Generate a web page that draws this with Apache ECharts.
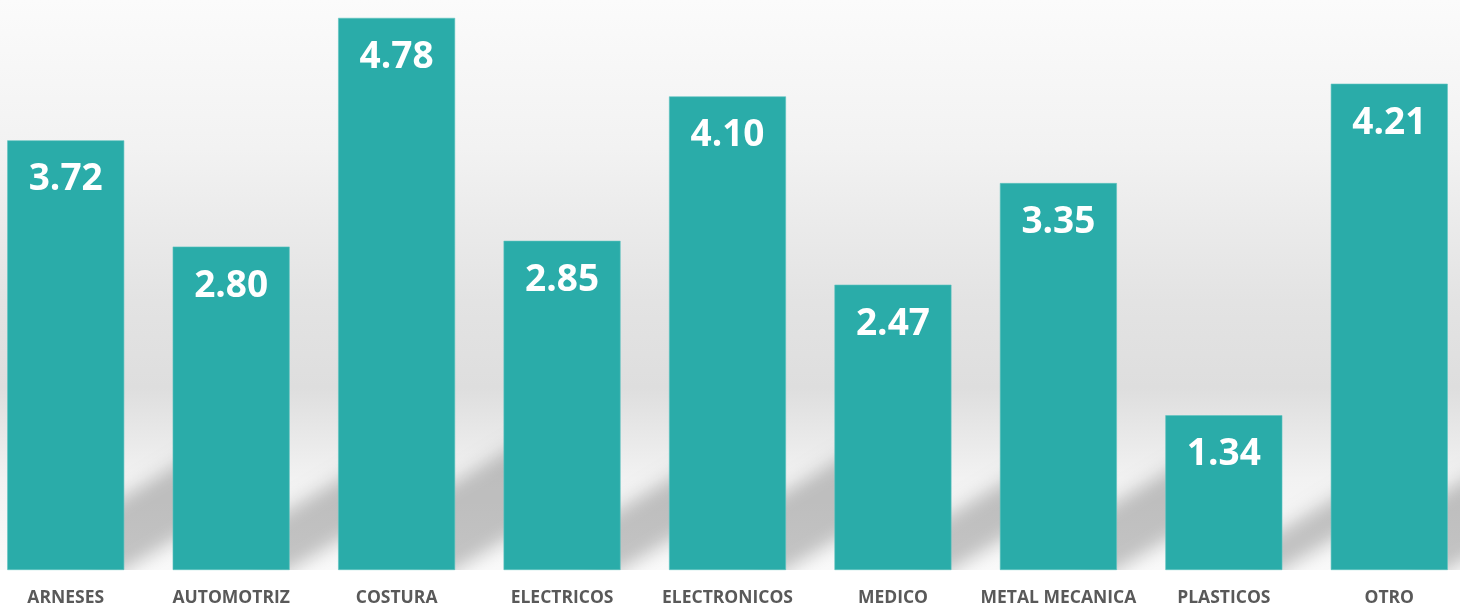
<!DOCTYPE html>
<html>
<head>
<meta charset="utf-8">
<script src="https://cdn.jsdelivr.net/npm/echarts@6/dist/echarts.min.js"></script>
<style>
html,body{margin:0;padding:0;background:#fff;}
#main{width:1460px;height:613px;}
</style>
</head>
<body>
<div id="main"></div>
<script>
const categories = ['ARNESES','AUTOMOTRIZ','COSTURA','ELECTRICOS','ELECTRONICOS','MEDICO','METAL MECANICA','PLASTICOS','OTRO'];
const values = [3.72, 2.80, 4.78, 2.85, 4.10, 2.47, 3.35, 1.34, 4.21];

const chart = echarts.init(document.getElementById('main'), null, {renderer:'canvas'});
const OFF = 3000;
const option = {
  animation: false,
  backgroundColor: '#ffffff',
  graphic: [{
    type: 'rect', z: -10, silent: true,
    shape: {x: 0, y: 0, width: 1460, height: 570},
    style: {
      fill: new echarts.graphic.LinearGradient(0, 0, 0, 1, [
        {offset: 0, color: '#fbfbfb'},
        {offset: 0.26, color: '#f2f2f2'},
        {offset: 0.53, color: '#e3e3e3'},
        {offset: 0.68, color: '#dedede'},
        {offset: 0.84, color: '#f2f2f2'},
        {offset: 1, color: '#fafafa'}
      ])
    }
  }, {
    type: 'rect', z: 2, silent: true,
    shape: {x: 0, y: 570, width: 1460, height: 43},
    style: {fill: '#ffffff'}
  }],
  grid: {left: -17, width: 1489, top: 0, bottom: 43, containLabel: false, outerBoundsMode: 'none'},
  xAxis: {
    type: 'category',
    data: categories,
    z: 6,
    axisLine: {show: false},
    axisTick: {show: false},
    axisLabel: {
      margin: 19,
      color: '#595959',
      fontFamily: 'Open Sans',
      fontWeight: 'bold',
      fontSize: 17.5,
      interval: 0
    }
  },
  yAxis: {
    type: 'value', min: 0, max: 4.935,
    show: false,
    splitLine: {show: false}
  },
  series: [
    {
      type: 'custom',
      z: 1,
      silent: true,
      data: values.map((v, i) => [i, v]),
      encode: {x: 0, y: 1},
      renderItem: function (params, api) {
        const idx = api.value(0);
        const v = api.value(1);
        const p = api.coord([idx, 0]);
        const band = api.size([1, 0])[0];
        const bw = band * 0.707;
        const rx = p[0] + bw / 2;
        const base = p[1];
        const barH = api.size([0, v])[1];
        const h = 22 + 0.12 * barH;
        const dx = 85, dy = 51;
        return {
          type: 'polygon',
          shape: {points: [
            [rx - 30 - OFF, base + 18], [rx + dx - OFF, base - dy], [rx + dx - OFF, base - dy - h], [rx - 30 - OFF, base + 18 - h]
          ]},
          style: {fill: '#000', shadowBlur: 18, shadowOffsetX: OFF, shadowOffsetY: 0, shadowColor: 'rgba(0,0,0,0.22)'}
        };
      }
    },
    {
      type: 'bar',
      z: 3,
      data: values,
      barWidth: '70.7%',
      itemStyle: {color: '#2aaca9', borderColor: '#5cc3c0', borderWidth: 0.6},
      label: {
        show: true,
        position: 'insideTop',
        distance: 21,
        color: '#ffffff',
        fontFamily: 'Open Sans',
        fontWeight: 'bold',
        fontSize: 37,
        formatter: p => p.value.toFixed(2)
      }
    }
  ]
};
chart.setOption(option);
</script>
</body>
</html>
